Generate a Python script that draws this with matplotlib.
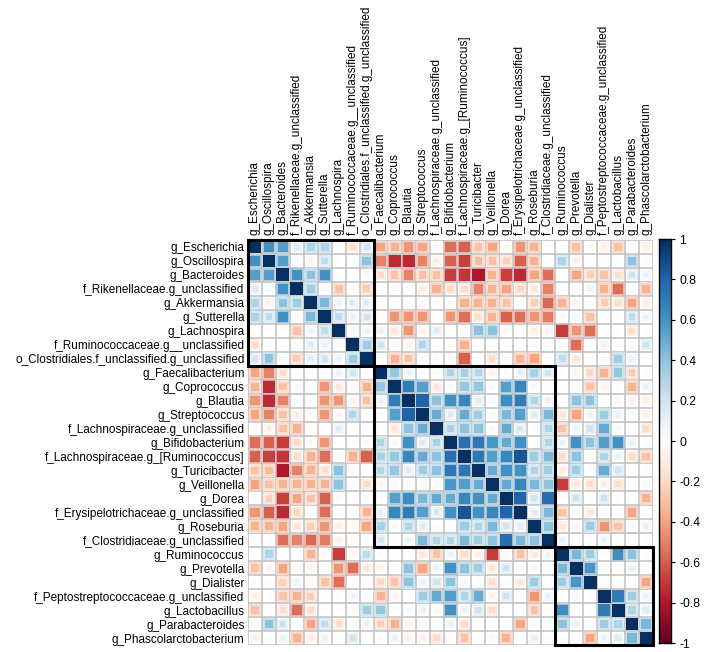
import numpy as np
import matplotlib
matplotlib.use("Agg")
import matplotlib.pyplot as plt
from matplotlib.colors import LinearSegmentedColormap
from matplotlib.patches import Rectangle

plt.rcParams['font.family'] = ['Liberation Sans', 'DejaVu Sans']
plt.rcParams['axes.unicode_minus'] = False

taxa = ['g_Escherichia', 'g_Oscillospira', 'g_Bacteroides',
        'f_Rikenellaceae.g_unclassified', 'g_Akkermansia', 'g_Sutterella',
        'g_Lachnospira', 'f_Ruminococcaceae.g__unclassified',
        'o_Clostridiales.f_unclassified.g_unclassified', 'g_Faecalibacterium',
        'g_Coprococcus', 'g_Blautia', 'g_Streptococcus',
        'f_Lachnospiraceae.g_unclassified', 'g_Bifidobacterium',
        'f_Lachnospiraceae.g_[Ruminococcus]', 'g_Turicibacter', 'g_Veillonella',
        'g_Dorea', 'f_Erysipelotrichaceae.g_unclassified', 'g_Roseburia',
        'f_Clostridiaceae.g_unclassified', 'g_Ruminococcus', 'g_Prevotella',
        'g_Dialister', 'f_Peptostreptococcaceae.g_unclassified',
        'g_Lactobacillus', 'g_Parabacteroides', 'g_Phascolarctobacterium']

# upper triangle, row i holds correlations with taxa i+1 .. end
r00 = [0.6, 0.55, 0.15, 0.3, 0.3, 0.0, -0.2, 0.2, -0.4, -0.35, -0.45, -0.4, -0.05, -0.55, -0.6, -0.3, -0.4, -0.05, -0.45, -0.35, 0.02, 0.03, -0.3, -0.05, -0.1, -0.3, 0.03, -0.1]
r01 = [0.55, 0.05, -0.1, 0.25, 0.03, 0.02, 0.4, -0.5, -0.75, -0.75, -0.5, -0.12, -0.6, -0.68, -0.32, -0.3, -0.25, -0.6, -0.35, 0.02, 0.3, -0.08, 0.02, 0.02, 0.03, 0.4, 0.02]
r02 = [0.6, 0.4, 0.6, 0.03, 0.0, 0.05, -0.2, -0.3, -0.5, -0.3, -0.3, -0.7, -0.72, -0.8, -0.35, -0.68, -0.75, -0.4, -0.55, 0.02, -0.4, -0.25, -0.3, -0.2, 0.2, 0.1]
r03 = [0.35, 0.05, -0.3, -0.05, -0.25, 0.02, 0.05, 0.02, -0.12, -0.35, -0.2, -0.2, -0.5, -0.35, -0.4, -0.22, -0.15, -0.5, 0.02, -0.05, 0.1, -0.35, -0.55, 0.02, -0.35]
r04 = [0.45, 0.1, 0.15, 0.15, 0.02, 0.0, 0.03, -0.05, -0.05, -0.05, -0.35, -0.35, -0.35, -0.3, -0.03, -0.25, -0.58, -0.35, -0.08, -0.03, -0.25, -0.2, -0.4, -0.12]
r05 = [0.25, 0.1, 0.2, 0.02, -0.45, -0.45, -0.45, -0.02, -0.45, -0.55, -0.2, -0.35, -0.6, -0.55, -0.45, -0.52, -0.05, 0.05, -0.3, 0.02, 0.02, 0.25, 0.1]
r06 = [0.05, 0.1, 0.1, -0.15, -0.45, -0.08, 0.15, 0.02, 0.05, 0.4, 0.4, -0.05, 0.02, -0.12, -0.1, -0.7, -0.45, -0.55, 0.02, 0.02, -0.2, 0.02]
r07 = [0.35, 0.2, -0.05, -0.08, 0.3, 0.02, -0.05, -0.35, 0.02, 0.02, 0.02, 0.0, -0.05, -0.05, -0.05, -0.55, 0.02, 0.08, -0.05, 0.02, 0.2]
r08 = [0.02, -0.35, -0.3, -0.05, 0.03, -0.05, -0.6, 0.02, -0.2, -0.05, -0.35, -0.4, 0.02, 0.25, -0.15, 0.02, 0.05, 0.35, 0.1, 0.02]
r09 = [0.38, 0.1, 0.03, 0.02, 0.3, 0.32, 0.28, -0.08, 0.02, 0.12, 0.32, 0.18, 0.03, -0.08, -0.22, -0.35, 0.38, -0.25, 0.03]
r10 = [0.7, 0.55, -0.15, 0.05, 0.38, 0.38, 0.05, 0.55, 0.65, 0.05, 0.02, 0.02, 0.02, -0.3, -0.08, 0.02, -0.35, 0.1]
r11 = [0.8, 0.4, 0.6, 0.65, 0.15, 0.05, 0.62, 0.7, 0.3, 0.1, 0.02, 0.4, 0.4, 0.02, 0.05, -0.1, -0.1]
r12 = [0.5, 0.15, 0.5, 0.35, 0.05, 0.45, 0.55, 0.15, 0.45, -0.15, -0.4, 0.1, 0.35, 0.1, -0.05, -0.1]
r13 = [0.32, 0.4, 0.4, 0.05, 0.5, 0.18, 0.02, 0.3, -0.3, 0.1, 0.2, 0.5, 0.05, 0.02, -0.2]
r14 = [0.75, 0.72, 0.58, 0.5, 0.6, 0.02, 0.3, 0.1, 0.6, 0.4, 0.55, 0.6, 0.1, -0.03]
r15 = [0.72, 0.55, 0.65, 0.85, 0.35, 0.45, -0.2, 0.4, 0.05, 0.3, 0.1, -0.2, -0.3]
r16 = [0.5, 0.6, 0.6, 0.3, 0.35, -0.1, 0.35, 0.02, 0.5, 0.2, 0.02, 0.02]
r17 = [0.5, 0.65, 0.45, 0.4, -0.7, -0.15, -0.2, -0.1, -0.2, 0.02, 0.05]
r18 = [0.8, 0.2, 0.75, -0.05, 0.2, 0.02, 0.2, 0.02, 0.02, -0.35]
r19 = [0.15, 0.45, -0.3, 0.02, -0.15, 0.03, 0.02, -0.4, 0.02]
r20 = [0.4, -0.15, 0.05, 0.35, -0.45, -0.3, -0.05, 0.12]
r21 = [0.1, 0.02, 0.02, 0.1, 0.02, 0.02, 0.02]
r22 = [0.45, 0.35, 0.03, 0.62, 0.4, 0.02]
r23 = [0.58, 0.05, 0.02, 0.1, 0.02]
r24 = [0.02, -0.03, 0.03, -0.4]
r25 = [0.7, 0.35, 0.1]
r26 = [0.3, 0.15]
r27 = [0.45]

# cluster blocks (start, size)
clusters = [(0, 9), (9, 13), (22, 7)]

upper = [r00, r01, r02, r03, r04, r05, r06, r07, r08, r09, r10, r11, r12, r13,
         r14, r15, r16, r17, r18, r19, r20, r21, r22, r23, r24, r25, r26, r27]
n = len(taxa)
corr = np.eye(n)
for i, vals in enumerate(upper):
    corr[i, i + 1:] = vals
    corr[i + 1:, i] = vals

col2 = ["#67001F", "#B2182B", "#D6604D", "#F4A582", "#FDDBC7", "#FFFFFF",
        "#D1E5F0", "#92C5DE", "#4393C3", "#2166AC", "#053061"]
cmap = LinearSegmentedColormap.from_list("rdbu", col2, N=200)

fig = plt.figure(figsize=(7.08, 6.52), dpi=100)
ax = fig.add_axes([248 / 708, 7 / 652, 405 / 708, 405 / 652])

for i in range(n):
    for j in range(n):
        v = corr[i, j]
        c = np.array(cmap((v + 1) / 2)[:3])
        s = min(0.92, np.sqrt(abs(v)) * 0.98)
        h = min(0.92, s + 0.35)
        light = c * 0.5 + 0.5
        ax.add_patch(Rectangle((j + 0.5 - h / 2, i + 0.5 - h / 2), h, h,
                               fc=light, ec='none', zorder=2))
        ax.add_patch(Rectangle((j + 0.5 - s / 2, i + 0.5 - s / 2), s, s,
                               fc=c, ec='none', zorder=3))

for k in range(n + 1):
    ax.plot([0, n], [k, k], color='#BEBEBE', lw=1.1, zorder=1)
    ax.plot([k, k], [0, n], color='#BEBEBE', lw=1.1, zorder=1)

for start, size in clusters:
    ax.add_patch(Rectangle((start, start), size, size, fill=False,
                           ec='black', lw=2.2, zorder=5, clip_on=False))

ax.set_xlim(0, n)
ax.set_ylim(n, 0)
for sp in ax.spines.values():
    sp.set_visible(False)
ax.set_xticks(np.arange(n) + 0.5)
ax.set_xticklabels(taxa, rotation=90, fontsize=8.5)
ax.xaxis.tick_top()
ax.set_yticks(np.arange(n) + 0.5)
ax.set_yticklabels(taxa, fontsize=8.5)
ax.tick_params(axis='x', length=0, pad=3.5)
ax.tick_params(axis='y', length=0, pad=2.5)

cax = fig.add_axes([659 / 708, 9 / 652, 12 / 708, 404 / 652])
grad = np.linspace(-1, 1, 200).reshape(-1, 1)
cax.imshow(grad, cmap=cmap, aspect='auto', origin='lower', extent=[0, 1, -1, 1])
ticks = np.round(np.arange(-1, 1.01, 0.2), 1)
cax.set_yticks(ticks)
cax.set_yticklabels(['0' if t == 0 else f'{t:g}' for t in ticks], fontsize=8.7)
cax.yaxis.tick_right()
cax.set_xticks([])
cax.tick_params(axis='y', length=3, width=0.8, pad=3)
for sp in cax.spines.values():
    sp.set_linewidth(1)

fig.savefig('out.png', dpi=100)
